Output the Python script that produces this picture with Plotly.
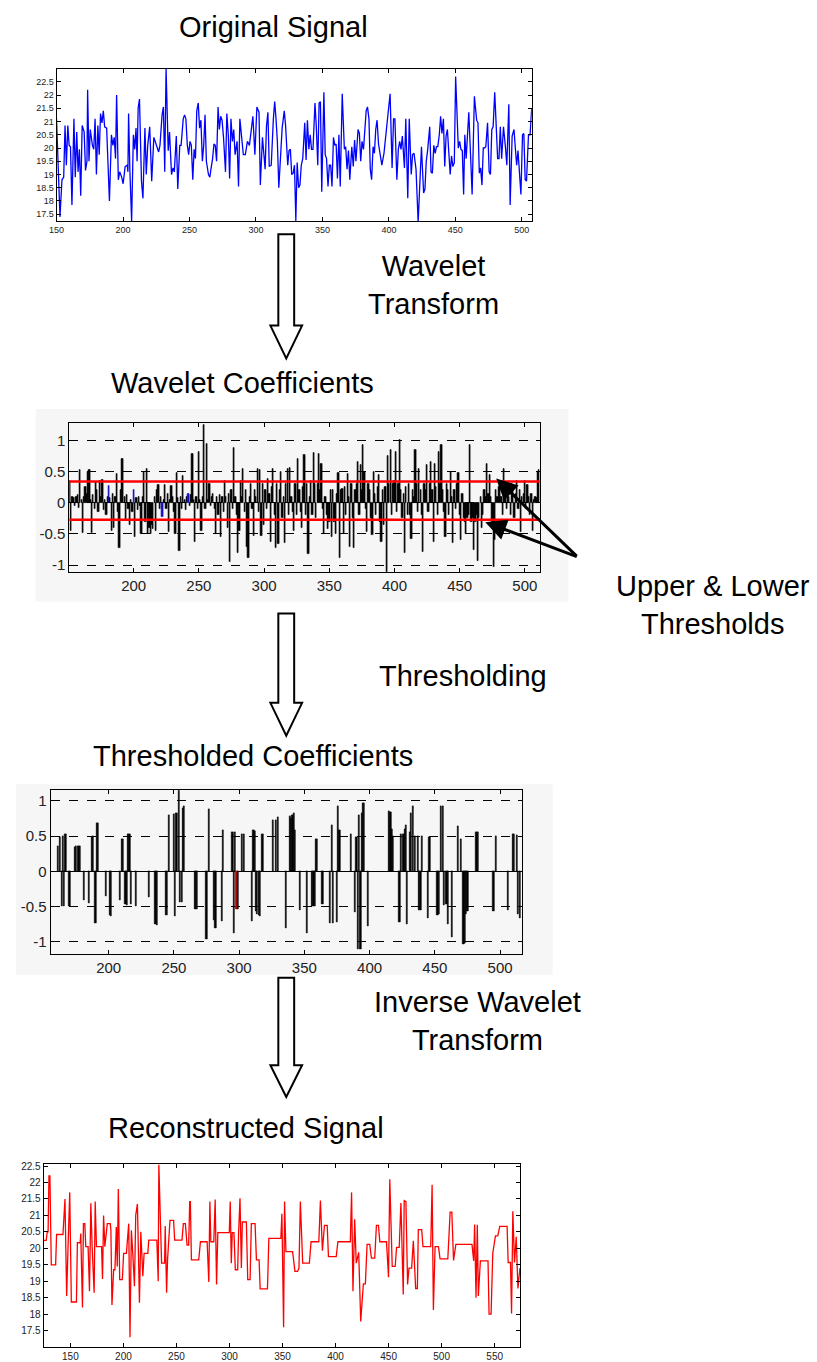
import plotly.graph_objects as go

# ---------------- DATA ----------------
# Original signal (sample index, value)
orig_x = [150.0,150.8,152.6,154.1,155.4,156.4,157.4,158.5,159.5,160.5,161.6,163.1,164.1,165.2,166.2,167.2,168.2,169.3,170.8,171.8,
          172.9,173.4,174.4,175.4,177.0,178.0,179.0,180.0,181.1,182.1,183.1,184.2,185.2,186.2,187.7,189.8,191.3,192.4,193.4,194.4,
          195.2,196.5,197.5,199.0,200.1,201.6,203.2,203.7,204.2,205.2,206.5,207.8,208.8,209.8,210.6,211.4,212.4,213.9,215.0,216.5,
          217.5,218.6,220.1,221.6,223.2,224.2,225.8,226.8,227.8,229.4,230.4,231.4,232.4,234.0,235.0,236.5,237.6,238.6,240.1,241.2,
          242.7,243.7,245.3,246.3,247.3,248.4,249.4,250.4,251.4,252.5,253.5,254.5,255.5,256.6,257.6,258.6,259.7,260.7,261.7,262.7,
          264.3,265.3,266.3,267.4,268.4,269.4,270.4,271.5,272.5,273.5,274.5,275.6,277.1,278.1,279.2,280.2,281.2,282.3,283.3,284.3,
          285.8,286.9,287.9,289.4,290.5,292.0,293.6,295.1,296.1,297.7,299.2,300.7,302.3,303.3,304.9,305.9,306.9,307.9,309.0,310.0,
          311.5,313.1,314.1,315.1,316.1,317.2,318.7,319.7,321.3,322.3,323.9,324.9,325.9,326.9,328.0,329.0,330.0,331.0,332.1,333.1,
          334.1,335.2,336.7,337.7,338.7,339.8,340.8,341.8,342.9,344.4,345.4,346.5,347.5,348.5,349.5,351.1,352.1,353.1,354.2,355.2,
          356.2,357.2,358.3,359.3,360.3,361.3,362.4,363.4,364.9,366.5,367.5,368.5,369.6,370.6,372.1,373.2,374.2,375.2,376.8,377.8,
          378.8,379.8,380.9,382.9,383.9,385.0,386.0,387.0,388.1,389.1,390.1,391.1,392.2,393.7,394.7,396.3,397.8,399.9,400.9,402.4,
          403.5,404.5,406.0,407.1,408.1,409.1,410.1,411.7,412.7,414.2,415.3,416.8,417.8,418.9,420.4,422.0,423.5,424.5,426.1,427.1,
          428.1,429.1,430.7,431.7,432.7,433.8,434.8,435.8,436.8,437.9,438.9,439.9,441.0,442.0,443.0,444.0,445.1,446.1,447.1,448.1,
          449.2,450.2,452.2,453.2,454.2,455.2,456.2,457.1,458.1,459.1,460.1,461.6,462.6,464.3,466.0,467.0,468.0,469.0,470.0,471.0,
          471.9,472.9,474.2,475.4,476.4,477.4,478.4,479.6,480.8,481.8,482.8,483.8,484.8,486.2,487.7,488.7,490.2,491.2,492.7,494.1,
          495.1,496.1,497.1,498.1,499.3,500.5,501.5,502.5,503.5,505.0,506.2,507.4]
orig_y = [21.1,19.75,17.4,18.8,18.9,20.85,19.35,20.85,20.1,20.05,17.85,21.1,18.9,20.6,19.1,19.95,18.2,20.85,20.6,19.15,
          19.5,22.2,19.5,20.7,20.1,19.95,21.1,19.0,20.85,19.75,21.3,20.95,21.4,20.8,20.75,18.0,20.5,20.1,20.4,19.6,
          22.0,18.8,19.1,18.9,18.65,19.3,19.35,19.1,21.3,19.1,17.25,20.5,19.95,20.75,19.5,21.5,21.85,18.75,18.1,20.75,
          19.0,20.1,20.8,18.75,20.4,20.25,19.98,19.85,20.1,21.25,21.55,19.1,23.0,19.9,20.6,19.0,19.25,19.1,20.45,18.45,
          20.1,20.1,21.1,21.25,21.1,20.1,19.75,20.25,20.1,18.8,19.95,19.6,21.4,21.7,20.75,21.05,19.5,20.1,21.25,19.5,
          19.0,18.9,19.25,19.6,20.15,20.1,19.5,21.55,20.7,21.2,21.05,20.4,19.1,21.3,20.5,18.85,21.1,20.25,20.7,19.75,
          20.25,18.55,21.1,20.15,19.75,19.75,20.25,20.1,20.45,21.2,19.75,21.55,21.35,18.6,20.4,19.9,19.2,20.8,21.35,19.3,
          19.35,21.1,21.75,21.1,20.25,18.5,20.05,20.75,21.4,20.85,19.35,19.9,19.95,19.0,19.05,19.35,17.25,19.45,18.5,18.6,
          19.35,19.6,20.95,19.55,21.05,19.95,20.5,19.95,19.95,21.7,20.8,19.35,21.7,21.75,18.35,22.1,19.75,19.6,18.55,19.35,
          19.35,18.55,20.4,20.1,20.15,18.85,20.5,18.55,22.05,19.95,20.05,19.2,19.9,18.8,20.05,19.3,20.3,19.5,20.7,20.55,
          19.5,20.25,19.95,21.4,21.55,21.1,19.2,18.8,20.05,19.8,20.7,21.05,20.15,19.55,19.35,19.8,20.6,21.8,22.05,19.25,
          21.1,21.1,18.8,19.95,20.25,19.95,20.45,19.25,21.1,18.1,21.1,19.0,19.75,19.8,19.2,17.2,18.75,20.05,18.3,18.45,
          19.5,19.9,20.8,19.1,19.05,20.1,19.8,20.05,20.05,20.5,21.2,20.55,21.1,19.3,20.45,20.7,19.8,19.0,19.7,19.3,
          19.45,22.7,20.0,20.25,19.95,19.9,18.25,20.5,19.6,20.6,21.35,19.5,18.25,21.95,21.05,20.95,19.05,19.25,18.6,20.0,
          20.0,20.05,20.95,19.1,19.0,20.7,20.8,22.1,20.75,19.6,19.6,20.8,19.6,20.8,20.0,19.35,21.65,17.85,20.45,20.7,
          20.0,19.35,19.9,19.25,18.25,20.5,20.55,18.8,18.75,20.5,20.5,21.5]

# Wavelet coefficients (one per sample, 151..511)
coef_start = 151
coef_vals = [
    0.35,-0.45,0.1,0.08,-0.05,0.1,0.12,-0.08,0.52,0.05,
    -0.48,0.1,0.25,0.15,0.5,0.52,0.05,-0.48,0.12,-0.1,
    0.33,0.2,-0.15,0.35,0.1,0.37,-0.12,0.05,-0.2,0.1,
    0.27,0.08,-0.45,0.15,-0.4,0.1,0.47,-0.15,-0.73,0.2,
    0.7,0.7,0.1,-0.27,0.12,-0.1,-0.35,0.05,-0.15,0.2,
    -0.55,0.08,-0.12,0.1,-0.05,-0.5,0.1,0.5,-0.3,0.55,
    -0.5,-0.4,-0.5,-0.35,-0.42,0.1,-0.45,0.2,0.28,-0.1,
    0.1,-0.22,0.05,0.28,-0.1,0.15,-0.47,0.05,0.27,0.1,
    -0.15,-0.5,0.48,0.08,-0.77,0.1,-0.1,0.43,0.05,-0.12,
    0.1,0.15,-0.05,0.12,0.78,0.05,-0.62,0.1,-0.1,0.82,
    0.05,-0.45,0.1,1.25,-0.1,0.95,0.05,0.3,-0.05,0.1,
    0.15,-0.1,-0.5,0.1,-0.2,0.12,-0.55,0.1,-0.15,0.35,
    0.1,-0.4,0.15,-0.95,0.2,-0.1,0.88,0.1,-0.2,-0.8,
    -0.45,0.35,0.1,0.55,-0.15,0.2,-0.7,-0.88,0.1,0.3,
    -0.1,-0.53,0.2,0.1,0.55,-0.15,0.53,-0.53,0.3,-0.35,
    0.2,-0.1,0.38,0.15,-0.62,0.25,0.55,-0.2,-0.72,0.3,
    -0.66,0.2,0.5,-0.25,0.1,-0.65,0.3,0.55,-0.2,0.56,
    0.1,-0.15,-0.45,0.3,-0.2,0.7,0.2,-0.15,-0.4,0.25,
    0.76,-0.2,0.3,-0.82,0.1,0.35,-0.2,0.8,0.3,-0.25,
    0.3,0.78,0.2,0.62,-0.1,-0.5,0.1,-0.2,-0.42,-0.3,
    0.2,-0.55,0.2,-0.3,-0.5,0.15,0.48,-0.88,0.2,0.22,
    -0.5,0.25,-0.2,0.47,0.1,-0.7,0.3,-0.25,-0.72,0.2,
    0.3,0.65,-0.2,0.6,0.2,0.92,0.5,-0.1,-0.47,0.3,
    0.2,-0.25,-0.52,0.5,0.15,-0.2,0.25,0.45,-0.3,-0.62,
    0.2,-0.35,0.25,-1.2,0.75,0.3,0.85,-0.2,0.3,0.35,
    0.82,-0.15,0.3,1.0,0.2,-0.25,0.15,-0.8,0.25,-0.2,
    0.3,-0.2,-0.58,0.2,0.1,0.85,0.3,-0.15,0.55,0.2,
    -0.2,-0.78,0.3,0.2,0.6,-0.15,0.3,0.65,0.2,-0.62,
    0.62,0.25,-0.2,0.82,0.3,0.92,0.2,-0.15,-0.55,0.3,
    0.2,-0.2,0.5,0.1,-0.65,0.2,-0.1,0.3,0.48,-0.2,
    -0.6,0.15,-0.25,-0.3,-0.5,-0.25,-0.2,0.92,-0.3,-0.25,
    -0.75,-0.3,-0.2,-0.93,-0.25,0.1,-0.4,-0.2,0.2,0.1,
    0.63,0.15,0.45,0.1,-0.3,-1.03,-0.6,0.2,0.1,0.25,
    0.35,0.1,-0.2,0.55,0.15,-0.1,0.2,0.1,-0.2,0.3,
    0.2,-0.25,0.15,0.35,-0.1,0.2,-0.47,0.1,0.15,0.35,
    -0.1,0.28,0.1,-0.2,0.15,-0.45,0.05,0.1,0.08,0.5,0.52]
coef_blue_x = [181, 200, 222, 242]
upper_threshold = 0.34
lower_threshold = -0.27

# Thresholded coefficients (kept coefficients only)
thr_x = [161,163,164,165,166,167,170,174,175,177,178,181,185,187,188,190,191,192,198,201,
         202,209,210,211,213,214,215,216,217,221,231,236,237,244,245,246,250,251,252,254,
         255,256,257,258,266,267,268,275,277,281,282,287,288,295,296,297,298,299,302,304,
         310,311,312,313,314,315,316,318,326,328,330,336,339,340,341,342,343,347,352,356,
         357,358,359,360,364,370,371,372,375,376,377,386,389,390,391,392,393,394,395,396,
         399,415,416,417,418,423,424,426,427,428,429,431,432,433,435,437,438,439,440,445,
         446,452,453,455,456,457,459,460,463,468,470,472,473,474,475,482,483,495,497,506,
         510,511,513,514,515]
thr_v = [0.35,0.49,-0.5,0.5,-0.5,0.52,-0.5,0.34,0.36,0.36,0.36,-0.41,-0.45,0.49,0.5,-0.73,0.68,0.68,-0.35,-0.62,
         -0.63,-0.41,0.45,0.46,-0.47,-0.48,0.52,0.52,-0.47,-0.5,-0.36,-0.75,-0.76,-0.62,-0.62,0.79,0.81,-0.64,0.82,1.15,
         -0.44,-0.43,0.9,0.92,-0.54,-0.54,-0.54,-0.96,0.88,-0.69,-0.8,-0.7,0.58,0.56,-0.88,0.55,-0.53,-0.53,0.52,0.52,
         -0.7,0.58,0.57,-0.56,-0.6,-0.62,-0.64,0.52,0.72,0.72,0.77,-0.8,0.78,0.76,0.8,0.82,0.58,-0.55,-0.87,-0.5,
         -0.5,-0.5,0.45,0.46,-0.47,-0.73,0.65,-0.73,-0.72,0.92,0.58,0.53,-0.58,0.48,-1.1,0.8,-1.1,0.82,0.97,0.97,
         -0.78,0.85,0.84,0.6,0.5,-0.72,0.52,0.53,0.6,0.65,-0.75,0.56,0.82,0.93,0.5,0.5,-0.55,-0.55,0.5,-0.67,
         0.48,-0.62,-0.6,0.92,0.93,-0.48,-0.47,-0.75,-0.93,0.64,0.46,-1.03,-1.02,-0.6,-0.57,0.56,0.56,-0.57,0.5,-0.55,
         0.53,0.52,0.51,-0.6,-0.66]
thr_red_x = [298]

# Reconstructed signal
rec_x = [125.0,127.2,128.2,129.0,129.8,130.7,132.0,136.1,137.0,143.0,144.9,146.5,147.8,149.4,150.9,155.7,156.6,159.2,159.8,161.4,
         162.3,163.6,164.5,166.7,168.0,169.3,170.5,172.4,173.4,174.6,179.4,180.3,181.3,182.5,184.8,187.6,188.2,189.2,190.8,192.0,
         193.3,194.2,195.2,196.5,199.0,200.2,202.8,204.4,205.0,206.2,207.5,208.8,210.4,211.6,213.2,215.1,216.4,218.3,219.5,223.0,
         223.9,231.5,232.8,233.4,235.0,236.0,238.8,239.4,240.7,241.6,243.9,247.3,248.3,255.2,256.5,258.4,260.0,261.5,262.5,263.1,
         264.1,271.0,272.6,278.9,280.5,281.5,282.4,285.2,286.5,287.8,289.0,299.8,300.7,301.7,302.6,304.2,305.5,307.7,308.6,309.9,
         311.2,312.1,315.9,317.2,319.4,320.6,324.1,325.4,327.9,328.9,335.8,337.1,348.4,349.4,351.0,351.9,353.2,359.5,361.7,364.2,
         365.5,366.8,368.0,369.0,375.3,376.9,384.2,385.7,387.6,389.5,392.1,393.3,400.6,402.2,413.9,415.1,416.4,418.0,419.5,421.8,
         423.7,426.2,428.1,429.7,432.2,433.8,436.9,438.5,440.4,441.7,448.0,449.9,451.1,453.4,456.2,457.5,460.0,461.6,463.8,464.7,
         466.3,467.9,469.2,471.7,473.3,475.5,477.1,478.0,481.2,482.4,489.7,491.0,492.2,493.8,497.0,498.5,505.8,508.0,509.6,511.2,
         513.4,528.6,530.2,531.1,532.4,533.6,534.6,536.5,543.7,544.7,546.6,548.2,550.7,552.9,554.8,561.7,562.7,564.9,565.9,567.1,
         568.7,570.3,571.9,573.8]
rec_y = [20.24,20.24,20.5,20.5,22.2,22.2,19.5,19.5,20.42,20.42,21.5,18.55,20.05,21.7,18.37,18.37,20.17,20.17,20.45,18.2,
         20.75,20.75,20.05,20.05,18.7,21.37,20.05,18.65,21.42,20.05,20.05,19.07,21.0,20.05,20.75,20.75,20.55,18.28,19.35,19.35,
         20.65,19.45,21.8,19.05,19.05,19.85,19.85,20.75,20.75,17.3,20.55,19.85,18.85,21.0,21.35,18.35,20.5,19.15,19.85,19.85,
         20.25,20.25,19.0,22.55,20.95,19.55,19.55,20.68,18.65,19.65,20.85,20.85,20.25,20.25,20.75,20.75,20.1,20.1,21.42,21.42,
         19.65,19.65,20.2,20.2,18.98,21.42,20.2,20.2,21.48,18.9,20.48,20.48,21.42,19.55,20.48,20.48,19.35,19.35,20.48,21.52,
         19.4,20.8,20.8,19.05,19.05,20.75,20.75,19.65,19.65,18.77,18.77,20.3,20.3,21.05,17.6,21.42,19.9,19.9,19.3,19.3,
         19.4,21.42,20.4,19.55,19.55,20.2,20.2,21.45,19.93,20.7,20.7,19.75,19.75,20.2,20.2,21.7,18.7,20.88,19.55,19.88,
         17.78,18.92,18.92,20.12,20.12,19.7,19.7,20.7,20.7,20.2,20.2,19.12,22.1,19.45,19.45,20.03,20.03,21.38,18.6,21.45,
         21.42,18.9,19.4,19.4,20.23,18.78,18.78,20.57,20.57,20.05,20.05,21.93,18.13,20.05,20.05,19.68,19.68,21.1,21.1,19.63,
         20.12,20.12,19.62,20.72,18.5,20.72,18.55,19.62,19.62,18.0,18.0,19.85,20.38,20.38,20.67,20.67,19.57,19.57,18.02,21.13,
         19.57,20.35,18.78,19.4]

titles = ["Original Signal", "Wavelet Coefficients", "Thresholded Coefficients", "Reconstructed Signal"]
side_labels = ["Wavelet<br>Transform", "Upper & Lower<br>Thresholds", "Thresholding", "Inverse Wavelet<br>Transform"]

signal_ticks = [17.5, 18, 18.5, 19, 19.5, 20, 20.5, 21, 21.5, 22, 22.5]
signal_ticktext = ["17.5", "18", "18.5", "19", "19.5", "20", "20.5", "21", "21.5", "22", "22.5"]
coef_ticks = [-1, -0.5, 0, 0.5, 1]
coef_ticktext = ["-1", "-0.5", "0", "0.5", "1"]

# ---------------- LAYOUT HELPERS ----------------
W, H = 817, 1362
def fx(p): return p / W
def fy(p): return 1 - p / H

FONT = "Liberation Sans, Arial, sans-serif"

fig = go.Figure()

fig.add_trace(go.Scatter(x=orig_x, y=orig_y, mode="lines", line=dict(color="#0000ff", width=1.3),
                         xaxis="x", yaxis="y", showlegend=False))

coef_x = [coef_start + i for i in range(len(coef_vals))]
coef_col = ["#1010c0" if xx in coef_blue_x else "black" for xx in coef_x]
fig.add_trace(go.Bar(x=coef_x, y=coef_vals, width=0.95,
                     marker=dict(color=coef_col, line=dict(width=0.6, color=coef_col)),
                     xaxis="x2", yaxis="y2", showlegend=False))

thr_col = ["#c00000" if xx in thr_red_x else "black" for xx in thr_x]
fig.add_trace(go.Bar(x=thr_x, y=thr_v, width=0.9,
                     marker=dict(color=thr_col, line=dict(width=0.6, color=thr_col)),
                     xaxis="x3", yaxis="y3", showlegend=False))

fig.add_trace(go.Scatter(x=rec_x, y=rec_y, mode="lines", line=dict(color="#ff0000", width=1.3),
                         xaxis="x4", yaxis="y4", showlegend=False))

def axis(domain, rng, fsize, anchor, **kw):
    d = dict(domain=domain, range=rng, showline=True, linecolor="black",
             linewidth=1, mirror="ticks", ticks="inside", ticklen=4, tickcolor="black",
             tickfont=dict(family=FONT, size=fsize, color="#222"), showgrid=False, zeroline=False,
             anchor=anchor, fixedrange=True)
    d.update(kw)
    return d

fig.update_layout(
    width=W, height=H, margin=dict(l=0, r=0, t=0, b=0),
    paper_bgcolor="white", plot_bgcolor="white", bargap=0,
    xaxis=axis([fx(49), fx(529)], [150, 507.5], 9, "y", dtick=50, tick0=150),
    yaxis=axis([fy(219), fy(65)], [17.23, 23.0], 9, "x", tickvals=signal_ticks, ticktext=signal_ticktext),
    xaxis2=axis([fx(62), fx(537)], [150.7, 511.4], 15, "y2", dtick=50, tick0=200),
    yaxis2=axis([fy(572), fy(422)], [-1.106, 1.28], 15, "x2", tickvals=coef_ticks, ticktext=coef_ticktext,
                showgrid=True, gridcolor="black", griddash="dash", gridwidth=1),
    xaxis3=axis([fx(43), fx(519)], [155.5, 516.7], 15, "y3", dtick=50, tick0=200),
    yaxis3=axis([fy(957), fy(792)], [-1.17, 1.15], 15, "x3", tickvals=coef_ticks, ticktext=coef_ticktext,
                showgrid=True, gridcolor="black", griddash="dash", gridwidth=1,
                zeroline=True, zerolinecolor="black", zerolinewidth=1),
    xaxis4=axis([fx(36), fx(517)], [124.8, 573.8], 10, "y4", dtick=50, tick0=150),
    yaxis4=axis([fy(1353), fy(1169)], [17.0, 22.55], 10, "x4", tickvals=signal_ticks, ticktext=signal_ticktext),
)

shapes = []
shapes.append(dict(type="rect", xref="paper", yref="paper", x0=fx(28), x1=fx(566), y0=fy(602), y1=fy(408),
                   fillcolor="#f6f6f6", line=dict(width=0), layer="below"))
shapes.append(dict(type="rect", xref="paper", yref="paper", x0=fx(8), x1=fx(550), y0=fy(978), y1=fy(786),
                   fillcolor="#f6f6f6", line=dict(width=0), layer="below"))
for t in (upper_threshold, lower_threshold):
    shapes.append(dict(type="line", xref="x2 domain", yref="y2", x0=0, x1=1, y0=t, y1=t,
                       line=dict(color="#ff0000", width=2.5)))

def block_arrow(top, neck, tip):
    sl, sr, hl, hr, cx = 273, 289, 265, 297, 281
    path = (f"M {fx(sl)},{fy(top)} L {fx(sr)},{fy(top)} L {fx(sr)},{fy(neck)} L {fx(hr)},{fy(neck)} "
            f"L {fx(cx)},{fy(tip)} L {fx(hl)},{fy(neck)} L {fx(sl)},{fy(neck)} Z")
    return dict(type="path", xref="paper", yref="paper", path=path, fillcolor="white",
                line=dict(color="black", width=2))
shapes.append(block_arrow(232, 324, 357))
shapes.append(block_arrow(614, 704, 737))
shapes.append(block_arrow(981, 1069, 1101))
fig.update_layout(shapes=shapes)

ann = []
def text(t, x, y):
    ann.append(dict(text=t, x=fx(x), y=fy(y), xref="paper", yref="paper", showarrow=False,
                    xanchor="center", yanchor="middle", font=dict(family=FONT, size=29, color="black")))
text(titles[0], 268, 23)
text(titles[1], 237, 382)
text(titles[2], 247, 758)
text(titles[3], 240, 1132)
text(side_labels[0], 430, 283)
text(side_labels[1], 712, 605)
text(side_labels[2], 460, 677)
text(side_labels[3], 474, 1025)
for tipx, tipy in ((493, 478), (482, 522)):
    ann.append(dict(text="", x=fx(tipx), y=fy(tipy), xref="paper", yref="paper", showarrow=True,
                    ax=575 - tipx, ay=557 - tipy, arrowhead=2, arrowsize=1.4, arrowwidth=3,
                    arrowcolor="black", standoff=0))
fig.update_layout(annotations=ann)

fig.write_html("out.html")
